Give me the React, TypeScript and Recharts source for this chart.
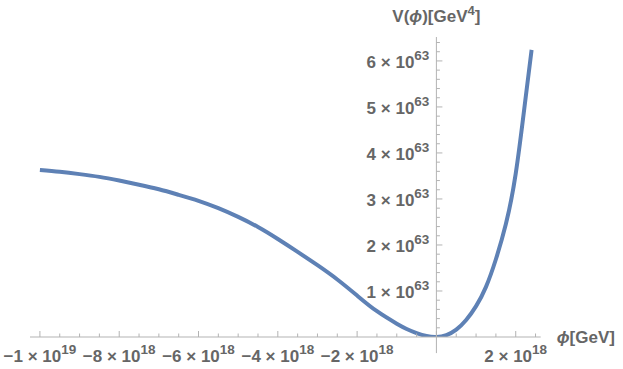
import { LineChart, Line, XAxis, YAxis, ReferenceLine } from 'recharts';

// phi in units of 1e18 GeV, V in units of 1e63 GeV^4
const phi = [
  -10, -9.5, -9, -8.5, -8, -7.5, -7, -6.5, -6, -5.5, -5, -4.5, -4, -3.5, -3, -2.5, -2, -1.5, -1,
  -0.75, -0.5, -0.25, 0, 0.25, 0.5, 0.75, 1, 1.25, 1.5, 1.75, 2, 2.25, 2.4,
];
const potential = [
  3.63, 3.59, 3.54, 3.48, 3.4, 3.31, 3.21, 3.09, 2.96, 2.8, 2.61, 2.39, 2.13, 1.85, 1.56, 1.25, 0.9,
  0.56, 0.29, 0.175, 0.085, 0.02, 0, 0.04, 0.16, 0.37, 0.67, 1.09, 1.69, 2.45, 3.55, 5.2, 6.24,
];

const xMajor = [-10, -8, -6, -4, -2, 0, 2];
const xMantissa = ['−1', '−8', '−6', '−4', '−2', '', '2'];
const xExponent = ['19', '18', '18', '18', '18', '', '18'];

const yMajor = [1, 2, 3, 4, 5, 6];
const yMantissa = ['1', '2', '3', '4', '5', '6'];
const yExponent = ['63', '63', '63', '63', '63', '63'];

const xMinor: number[] = [];
for (let i = -20; i <= 5; i++) xMinor.push(i / 2);
const yMinor: number[] = [];
for (let i = 1; i <= 32; i++) yMinor.push(i / 5);

const data = phi.map((p, i) => ({ phi: p, V: potential[i] }));

const AXIS = '#b3b3b3';
const TEXT = '#666666';
const FONT = '"Liberation Sans", Arial, sans-serif';

function isMajor(list: number[], v: number) {
  return list.findIndex((m) => Math.abs(m - v) < 1e-6);
}

function XTick(props: any) {
  const { x, y, payload } = props;
  const idx = isMajor(xMajor, payload.value);
  const len = idx >= 0 ? 6 : 3.5;
  return (
    <g>
      <line x1={x} x2={x} y1={y} y2={y - len} stroke={AXIS} />
      {idx >= 0 && xMantissa[idx] !== '' && (
        <text x={x} y={y + 25} textAnchor="middle" fill={TEXT} fontFamily={FONT} fontWeight="bold" fontSize={17}>
          {xMantissa[idx]} × 10
          <tspan dy={-8} fontSize={13.5}>{xExponent[idx]}</tspan>
        </text>
      )}
    </g>
  );
}

function YTick(props: any) {
  const { x, y, payload } = props;
  const idx = isMajor(yMajor, payload.value);
  const len = idx >= 0 ? 6 : 3.5;
  return (
    <g>
      <line x1={x} x2={x + len} y1={y} y2={y} stroke={AXIS} />
      {idx >= 0 && (
        <text x={x - 7} y={y + 7} textAnchor="end" fill={TEXT} fontFamily={FONT} fontWeight="bold" fontSize={17}>
          {yMantissa[idx]} × 10
          <tspan dy={-8} fontSize={13.5}>{yExponent[idx]}</tspan>
        </text>
      )}
    </g>
  );
}

function XLabel(props: any) {
  const { viewBox } = props;
  return (
    <text x={viewBox.x + viewBox.width + 16} y={viewBox.y + 6} fill={TEXT} fontFamily={FONT} fontWeight="bold" fontSize={17}>
      <tspan fontStyle="italic">ϕ</tspan>[GeV]
    </text>
  );
}

function YLabel(props: any) {
  const { viewBox } = props;
  return (
    <text x={viewBox.x + viewBox.width} y={viewBox.y - 15} textAnchor="middle" fill={TEXT} fontFamily={FONT} fontWeight="bold" fontSize={17}>
      V(<tspan fontStyle="italic">ϕ</tspan>)[GeV
      <tspan dy={-7} fontSize={13}>4</tspan>
      <tspan dy={7}>]</tspan>
    </text>
  );
}

export default function App() {
  return (
    <div style={{ position: 'absolute', left: 0, top: 0, width: 623, height: 369, background: '#fff' }}>
      <div style={{ position: 'absolute', left: 0, top: 0 }}>
        <LineChart width={623} height={369} data={data} margin={{ top: 37, right: 82.3, bottom: 2, left: 30 }}>
          <XAxis
            type="number"
            dataKey="phi"
            domain={[-10.25, 2.63]}
            ticks={xMinor}
            interval={0}
            tick={<XTick />}
            tickLine={false}
            tickSize={0}
            tickMargin={0}
            height={30}
            axisLine={{ stroke: AXIS }}
            allowDataOverflow
            label={<XLabel />}
          />
          <YAxis hide type="number" domain={[0, 6.52]} allowDataOverflow />
          <ReferenceLine segment={[{ x: 0, y: -0.35 }, { x: 0, y: 0 }]} stroke={AXIS} ifOverflow="visible" />
          <Line
            type="natural"
            dataKey="V"
            stroke="#5e81b5"
            strokeWidth={4}
            dot={false}
            isAnimationActive={false}
          />
        </LineChart>
      </div>
      <div style={{ position: 'absolute', left: 0, top: 0 }}>
        <LineChart width={623} height={369} data={data} margin={{ top: 37, right: 100, bottom: 32, left: 356.4 }}>
          <XAxis hide type="number" dataKey="phi" domain={[0, 1]} allowDataOverflow />
          <YAxis
            type="number"
            domain={[0, 6.52]}
            ticks={yMinor}
            interval={0}
            width={80}
            tick={<YTick />}
            tickLine={false}
            tickSize={0}
            tickMargin={0}
            axisLine={{ stroke: AXIS }}
            allowDataOverflow
            label={<YLabel />}
          />
        </LineChart>
      </div>
    </div>
  );
}
